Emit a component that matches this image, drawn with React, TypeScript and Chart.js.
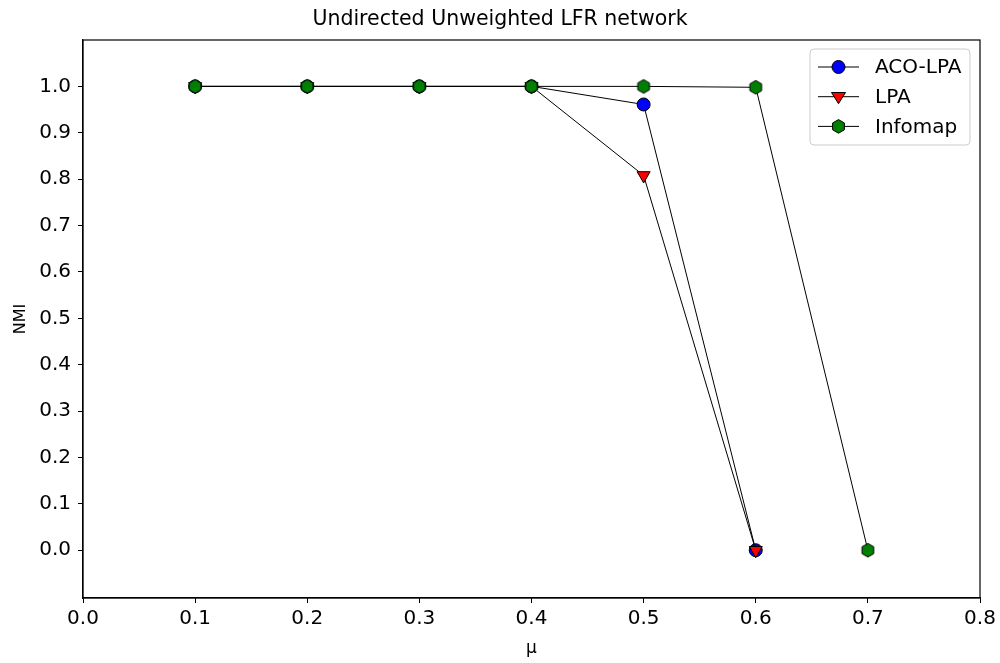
import React, { useEffect, useRef } from "react";
import { Chart, registerables } from "chart.js";

Chart.register(...registerables);

const MU = [0.1, 0.2, 0.3, 0.4, 0.5, 0.6];
const MU_INFOMAP = [0.1, 0.2, 0.3, 0.4, 0.5, 0.6, 0.7];
const ACO_LPA = [1.0, 1.0, 1.0, 1.0, 0.961, 0.0];
const LPA = [1.0, 1.0, 1.0, 1.0, 0.808, 0.0];
const INFOMAP = [1.0, 1.0, 1.0, 1.0, 1.0, 0.998, 0.0];
const X_TICKS = [0.0, 0.1, 0.2, 0.3, 0.4, 0.5, 0.6, 0.7, 0.8];
const Y_TICKS = [0.0, 0.1, 0.2, 0.3, 0.4, 0.5, 0.6, 0.7, 0.8, 0.9, 1.0];
const SERIES_NAMES = ["ACO-LPA", "LPA", "Infomap"];
const TITLE = "Undirected Unweighted LFR network";

const FONT = "'DejaVu Sans', 'Liberation Sans', sans-serif";
const BLUE = "#0000ff";
const RED = "#ff0000";
const GREEN = "#008000";

function hexPath(ctx: CanvasRenderingContext2D, cx: number, cy: number, r: number) {
  ctx.beginPath();
  for (let i = 0; i < 6; i++) {
    const a = ((-90 + 60 * i) * Math.PI) / 180;
    const px = cx + r * Math.cos(a);
    const py = cy + r * Math.sin(a);
    if (i === 0) ctx.moveTo(px, py);
    else ctx.lineTo(px, py);
  }
  ctx.closePath();
}

function makeHexImage(): HTMLCanvasElement {
  const c = document.createElement("canvas");
  c.width = 16;
  c.height = 16;
  const ctx = c.getContext("2d")!;
  hexPath(ctx, 8, 8, 6.8);
  ctx.fillStyle = GREEN;
  ctx.fill();
  ctx.lineWidth = 1;
  ctx.strokeStyle = "#000";
  ctx.stroke();
  return c;
}

function drawMarker(ctx: CanvasRenderingContext2D, kind: string, cx: number, cy: number) {
  ctx.save();
  ctx.lineWidth = 1;
  ctx.strokeStyle = "#000";
  if (kind === "circle") {
    ctx.beginPath();
    ctx.arc(cx, cy, 6.5, 0, Math.PI * 2);
    ctx.fillStyle = BLUE;
    ctx.fill();
    ctx.stroke();
  } else if (kind === "tri") {
    const r = 7;
    ctx.beginPath();
    ctx.moveTo(cx - r, cy - r * 0.6);
    ctx.lineTo(cx + r, cy - r * 0.6);
    ctx.lineTo(cx, cy + r);
    ctx.closePath();
    ctx.fillStyle = RED;
    ctx.fill();
    ctx.stroke();
  } else {
    hexPath(ctx, cx, cy, 6.8);
    ctx.fillStyle = GREEN;
    ctx.fill();
    ctx.stroke();
  }
  ctx.restore();
}

const framePlugin = {
  id: "frameAndLegend",
  afterDraw(chart: any) {
    const { ctx, chartArea, width } = chart;
    ctx.save();
    ctx.strokeStyle = "#000";
    ctx.lineWidth = 1.2;
    ctx.strokeRect(chartArea.left, chartArea.top, chartArea.right - chartArea.left, chartArea.bottom - chartArea.top);

    // title, centred on the figure
    ctx.fillStyle = "#000";
    ctx.font = `20.5px ${FONT}`;
    ctx.textAlign = "center";
    ctx.textBaseline = "middle";
    ctx.fillText(TITLE, width / 2, 19.5);

    // legend
    const boxW = 160;
    const boxH = 96;
    const bx = chartArea.right - 10 - boxW;
    const by = chartArea.top + 9;
    ctx.beginPath();
    const rr = 4;
    ctx.moveTo(bx + rr, by);
    ctx.lineTo(bx + boxW - rr, by);
    ctx.quadraticCurveTo(bx + boxW, by, bx + boxW, by + rr);
    ctx.lineTo(bx + boxW, by + boxH - rr);
    ctx.quadraticCurveTo(bx + boxW, by + boxH, bx + boxW - rr, by + boxH);
    ctx.lineTo(bx + rr, by + boxH);
    ctx.quadraticCurveTo(bx, by + boxH, bx, by + boxH - rr);
    ctx.lineTo(bx, by + rr);
    ctx.quadraticCurveTo(bx, by, bx + rr, by);
    ctx.closePath();
    ctx.fillStyle = "rgba(255,255,255,0.8)";
    ctx.fill();
    ctx.strokeStyle = "#cccccc";
    ctx.lineWidth = 1;
    ctx.stroke();

    const kinds = ["circle", "tri", "hex"];
    for (let i = 0; i < SERIES_NAMES.length; i++) {
      const cy = by + 18 + i * 29.7;
      ctx.beginPath();
      ctx.moveTo(bx + 8, cy);
      ctx.lineTo(bx + 49, cy);
      ctx.strokeStyle = "#000";
      ctx.lineWidth = 1;
      ctx.stroke();
      drawMarker(ctx, kinds[i], bx + 28.5, cy);
      ctx.fillStyle = "#000";
      ctx.font = `20px ${FONT}`;
      ctx.textBaseline = "middle";
      ctx.textAlign = "left";
      ctx.fillText(SERIES_NAMES[i], bx + 65, cy + 1);
    }
    ctx.restore();
  },
};

export default function App() {
  const ref = useRef<HTMLCanvasElement>(null);

  useEffect(() => {
    document.body.style.margin = "0";
    const hexImg = makeHexImage();
    const toPts = (xs: number[], ys: number[]) => xs.map((x, i) => ({ x, y: ys[i] }));
    const chart = new Chart(ref.current!, {
      type: "line",
      data: {
        datasets: [
          {
            label: SERIES_NAMES[0],
            data: toPts(MU, ACO_LPA),
            borderColor: "#000",
            borderWidth: 1,
            pointStyle: "circle",
            pointRadius: 6.5,
            pointBackgroundColor: BLUE,
            pointBorderColor: "#000",
            pointBorderWidth: 1,
            order: 3,
          },
          {
            label: SERIES_NAMES[1],
            data: toPts(MU, LPA),
            borderColor: "#000",
            borderWidth: 1,
            pointStyle: "triangle",
            pointRotation: 180,
            pointRadius: 7.5,
            pointBackgroundColor: RED,
            pointBorderColor: "#000",
            pointBorderWidth: 1,
            order: 2,
          },
          {
            label: SERIES_NAMES[2],
            data: toPts(MU_INFOMAP, INFOMAP),
            borderColor: "#000",
            borderWidth: 1,
            pointStyle: hexImg as any,
            pointRadius: 7,
            pointBackgroundColor: GREEN,
            pointBorderColor: "#000",
            order: 1,
          },
        ] as any,
      },
      options: {
        animation: false,
        responsive: true,
        maintainAspectRatio: false,
        layout: { padding: { left: 0, right: 20, top: 40, bottom: 0 } },
        plugins: {
          legend: { display: false },
          tooltip: { enabled: false },
          title: { display: false },
        },
        scales: {
          x: {
            type: "linear",
            min: 0,
            max: 0.8,
            afterBuildTicks: (s: any) => {
              s.ticks = X_TICKS.map((v) => ({ value: v }));
            },
            afterFit: (s: any) => {
              s.height = 65;
            },
            ticks: {
              color: "#000",
              font: { family: FONT, size: 20 },
              padding: 4,
              maxRotation: 0,
              callback: (v: any) => Number(v).toFixed(1),
            },
            grid: { drawOnChartArea: false, drawTicks: true, tickLength: 5, color: "#000" },
            border: { display: true, color: "#000", width: 1.2 },
            title: {
              display: true,
              text: "μ",
              color: "#000",
              font: { family: FONT, size: 17 },
              padding: { top: 0, bottom: 4 },
            },
          },
          y: {
            type: "linear",
            min: -0.103,
            max: 1.1,
            afterBuildTicks: (s: any) => {
              s.ticks = Y_TICKS.map((v) => ({ value: v }));
            },
            afterFit: (s: any) => {
              s.width = 83;
            },
            ticks: {
              color: "#000",
              font: { family: FONT, size: 20 },
              padding: 7,
              callback: (v: any) => Number(v).toFixed(1),
            },
            grid: { drawOnChartArea: false, drawTicks: true, tickLength: 5, color: "#000" },
            border: { display: true, color: "#000", width: 1.2 },
            title: {
              display: true,
              text: "NMI",
              color: "#000",
              font: { family: FONT, size: 16 },
              padding: { top: 11.5, bottom: 0 },
            },
          },
        },
      } as any,
      plugins: [framePlugin],
    });
    return () => chart.destroy();
  }, []);

  return (
    <div style={{ position: "fixed", left: 0, top: 0, width: 1000, height: 663, background: "#fff" }}>
      <canvas ref={ref} />
    </div>
  );
}
